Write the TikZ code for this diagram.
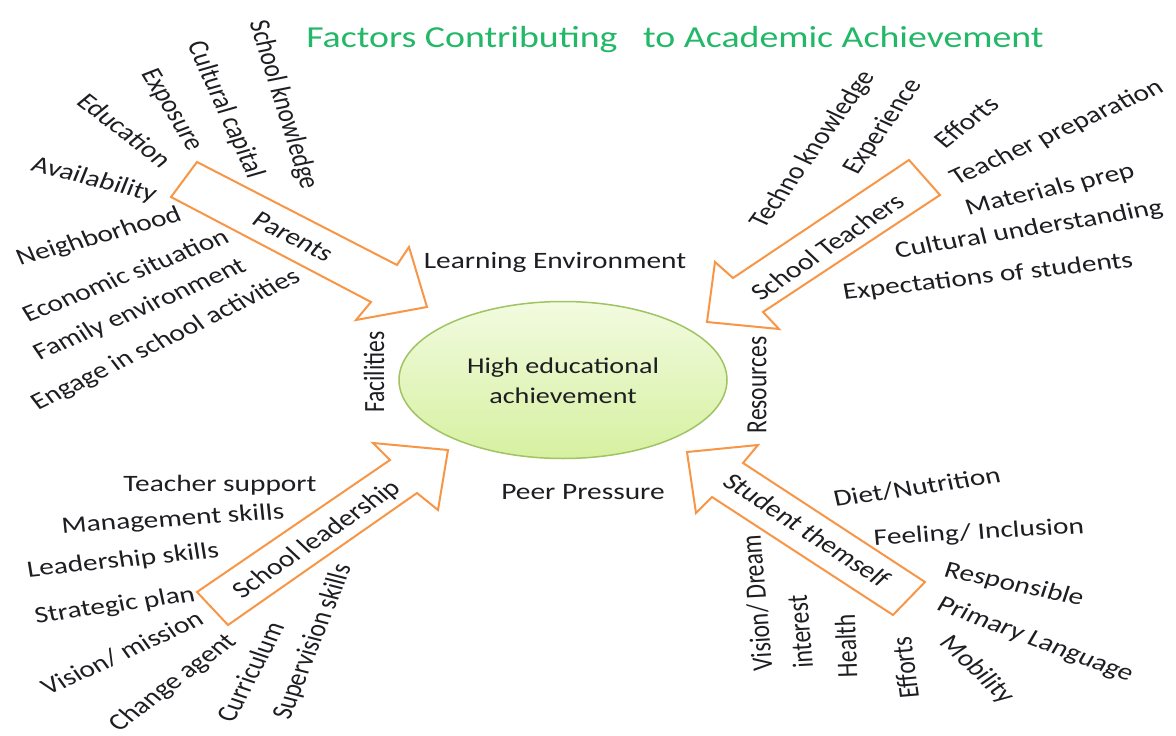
\documentclass[tikz,border=0pt]{standalone}
\usepackage{fontspec}
\usetikzlibrary{shapes.geometric}
\setmainfont{Carlito}
\definecolor{arrowor}{RGB}{247,150,70}
\definecolor{titlegreen}{RGB}{34,184,104}
\definecolor{labgray}{RGB}{30,30,34}
\definecolor{ellborder}{RGB}{160,196,98}
\definecolor{elltop}{RGB}{242,251,224}
\definecolor{ellbot}{RGB}{214,240,160}
\tikzset{
  lab/.style={inner sep=0pt, text=labgray, font=\fontsize{23.5}{28}\selectfont, xscale=1.25},
  ctr/.style={inner sep=0pt, text=labgray, font=\fontsize{23.5}{28}\selectfont, xscale=1.25},
  bigarrow/.style={draw=arrowor, line width=2pt, fill=white, line join=miter},
}
\begin{document}
\begin{tikzpicture}[x=1pt,y=-1pt]
\useasboundingbox (0,0) rectangle (1176,736);
\fill[white] (0,0) rectangle (1176,736);

% title
\node[inner sep=0pt, text=titlegreen, font=\fontsize{30.5}{34}\selectfont, xscale=1.24, anchor=base] (title) at (675,47) {Factors Contributing\ \ \ to Academic Achievement};

% centre ellipse
\node[ellipse, minimum width=328pt, minimum height=157pt, draw=ellborder, line width=1.5pt,
      top color=elltop, bottom color=ellbot, inner sep=0pt] (hub) at (563,380) {};
\node[ctr, align=center, font=\fontsize{22.5}{30}\selectfont] (hubtext) at (563,381) {High educational\\achievement};

% arrows
\draw[bigarrow] (197,162) -- (397,265) -- (409,247) -- (427,307) -- (356,320) -- (371,302) -- (171,197) -- cycle;
\draw[bigarrow] (909,160) -- (733,278) -- (715,262) -- (707,322) -- (779,329) -- (763,312) -- (940,195) -- cycle;
\draw[bigarrow] (197,592) -- (390,460) -- (373,443) -- (448,450) -- (438,510) -- (417,493) -- (228,625) -- cycle;
\draw[bigarrow] (687,452) -- (758,445) -- (743,463) -- (925,582) -- (893,615) -- (712,497) -- (696,513) -- cycle;

% arrow labels
\node[lab, rotate=-32.8] (parents) at (293,237) {Parents};
\node[lab, rotate=40] (teachers) at (827,247) {School Teachers};
\node[lab, rotate=40.5] (leadership) at (317,540) {School leadership};
\node[lab, rotate=-39.3] (student) at (807,530) {Student themself};

% inner labels
\node[ctr] (learn) at (555,262) {Learning Environment};
\node[ctr] (peer) at (583,492) {Peer Pressure};
\node[ctr, rotate=90] (facil) at (374,372) {Facilities};
\node[ctr, rotate=90] (resour) at (757,385) {Resources};

% top-left group
\node[lab, rotate=-76] (l1) at (283,105) {School knowledge};
\node[lab, rotate=-70] (l2) at (225,110) {Cultural capital};
\node[lab, rotate=-64] (l3) at (171,110) {Exposure};
\node[lab, rotate=-44] (l4) at (125,130) {Education};
\node[lab, rotate=-17.8] (l5) at (94,180) {Availability};
\node[lab, rotate=19.3] (l6) at (99,237) {Neighborhood};
\node[lab, rotate=26.6] (l7) at (125,275) {Economic situation};
\node[lab, rotate=28.5] (l8) at (140,310) {Family environment};
\node[lab, rotate=31.6] (l9) at (166,340) {Engage in school activities};

% top-right group
\node[lab, rotate=60] (r1) at (813,150) {Techno knowledge};
\node[lab, rotate=60.4] (r2) at (883,127) {Experience};
\node[lab, rotate=43.9] (r3) at (966,122) {Efforts};
\node[lab, rotate=29.7] (r4) at (1057,133) {Teacher preparation};
\node[lab, rotate=16] (r5) at (1050,190) {Materials prep};
\node[lab, rotate=11.7] (r6) at (1029,230) {Cultural understanding};
\node[lab, rotate=8.1] (r7) at (988,277) {Expectations of students};

% bottom-left group
\node[lab] (b1) at (220,485) {Teacher support};
\node[lab, rotate=4.7] (b2) at (173,520) {Management skills};
\node[lab, rotate=7.4] (b3) at (123,561) {Leadership skills};
\node[lab, rotate=9.9] (b4) at (115,606) {Strategic plan};
\node[lab, rotate=29.9] (b5) at (122,653) {Vision/ mission};
\node[lab, rotate=43.4] (b6) at (173,683) {Change agent};
\node[lab, rotate=66.9] (b7) at (250,672) {Curriculum};
\node[lab, rotate=72.2] (b8) at (313,642) {Supervision skills};

% bottom-right group
\node[lab, rotate=10.4] (s1) at (917,487) {Diet/Nutrition};
\node[lab, rotate=4] (s2) at (979,533) {Feeling/ Inclusion};
\node[lab, rotate=-14.8] (s3) at (1014,585) {Responsible};
\node[lab, rotate=-25.3] (s4) at (1035,640) {Primary Language};
\node[lab, rotate=-49.3] (s5) at (977,670) {Mobility};
\node[lab, rotate=94] (s6) at (757,603) {Vision/ Dream};
\node[lab, rotate=94] (s7) at (800,632) {interest};
\node[lab, rotate=92] (s8) at (846,646) {Health};
\node[lab, rotate=96] (s9) at (905,668) {Efforts};
\end{tikzpicture}
\end{document}
